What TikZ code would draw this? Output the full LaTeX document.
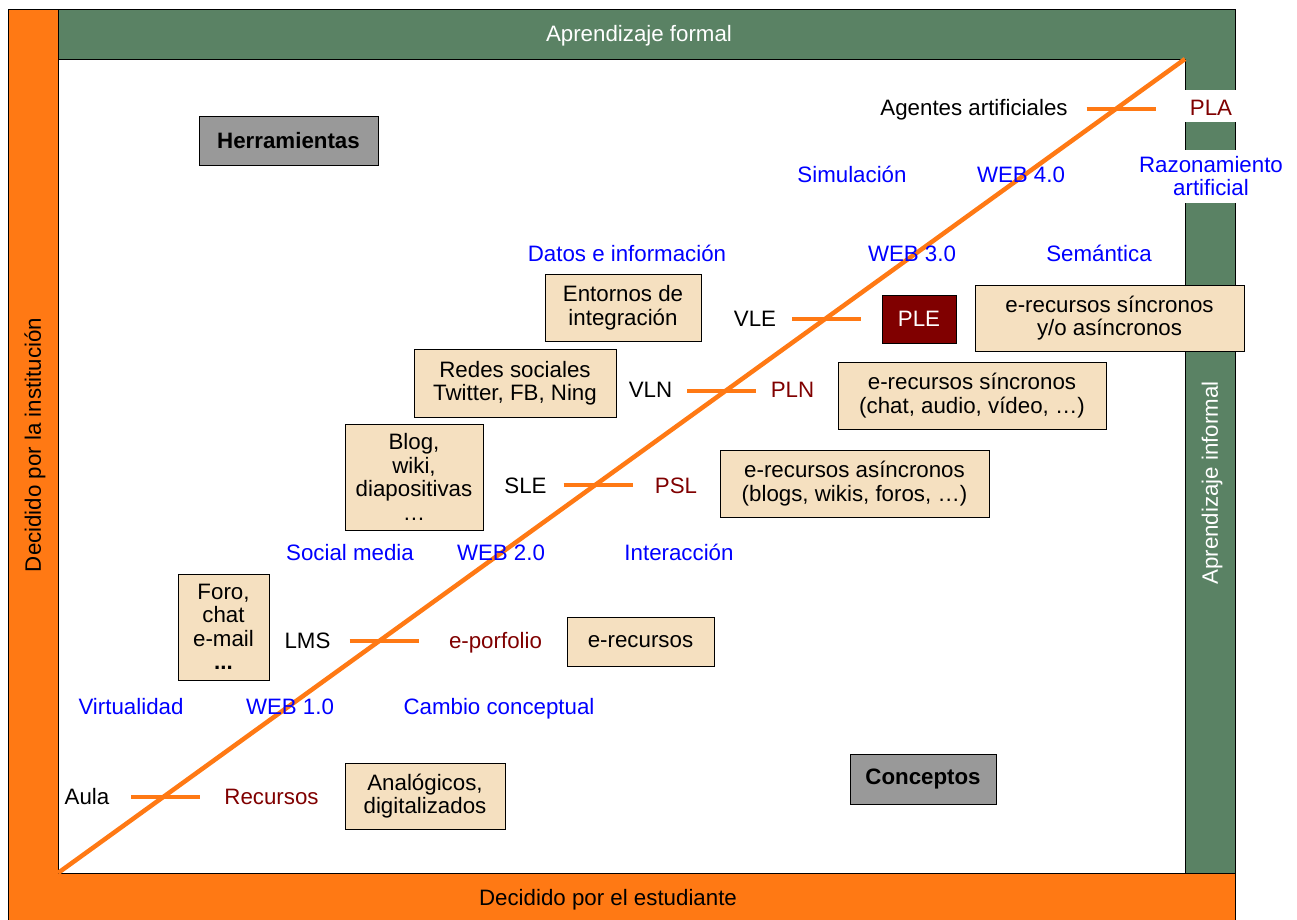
\documentclass[tikz,border=0pt]{standalone}
\usepackage{fontspec}
\setmainfont{Liberation Sans}
\usetikzlibrary{calc}
\definecolor{barorange}{RGB}{255,121,20}
\definecolor{bargreen}{RGB}{90,130,100}
\definecolor{boxtan}{RGB}{245,224,192}
\definecolor{boxgray}{RGB}{153,153,153}
\definecolor{darkred}{RGB}{128,0,0}
\definecolor{webblue}{RGB}{0,0,255}

\begin{document}
\begin{tikzpicture}[x=1pt,y=-1pt,
  font=\fontsize{22.3}{23.5}\selectfont,
  lbl/.style={inner sep=0pt, text height=15.8pt, text depth=0pt},
  env/.style={lbl, text=black},
  pers/.style={lbl, text=darkred},
  concept/.style={lbl, text=webblue},
  toolbox/.style={draw=black, line width=1pt, fill=boxtan, align=center, inner sep=0pt},
  headbox/.style={draw=black, line width=1pt, fill=boxgray, font=\fontsize{22.3}{23.5}\selectfont\bfseries, inner sep=0pt},
  trend/.style={draw=barorange, line width=4.5pt},
  tick/.style={draw=barorange, line width=4.5pt},
  frameline/.style={draw=black, line width=1pt}
]
\useasboundingbox (0,0) rectangle (1297,919);

% frame corners
\coordinate (o) at (58,873);
\coordinate (e) at (1185,59);

% orange L (left and bottom)
\fill[barorange] (8,9) -- (58,9) -- (58,873) -- (1235,873) -- (1235,922) -- (8,922) -- cycle;
\draw[frameline] (8,922) -- (8,9) -- (58,9) -- (58,873) -- (1235,873) -- (1235,922);
% green L (top and right)
\fill[bargreen] (58,9) -- (1235,9) -- (1235,873) -- (1185,873) -- (1185,59) -- (58,59) -- cycle;
\draw[frameline] (58,9) -- (1235,9) -- (1235,873) -- (1185,873) -- (1185,59) -- (58,59) -- cycle;

% bar captions
\node[lbl, text=white] (formal) at (639,34) {Aprendizaje formal};
\node[lbl, text=black] (estud) at (608,898) {Decidido por el estudiante};
\node[lbl, text=black, rotate=90] (instit) at (33,445) {Decidido por la institución};
\node[lbl, text=white, rotate=90] (informal) at (1210,483) {Aprendizaje informal};

% white patches behind labels crossing the right bar
\fill[white] (1184,90) rectangle (1237,122);
\fill[white] (1184,150) rectangle (1237,203);

% trend line
\draw[trend] (o) -- (e);

% ticks across the trend line
\coordinate (tAula) at (165.5,797);
\coordinate (tLMS) at (384,641);
\coordinate (tSLE) at (598,485);
\coordinate (tVLN) at (721.5,391);
\coordinate (tVLE) at (826.5,319);
\coordinate (tPLA) at (1121,109);
\foreach \t in {tAula,tLMS,tSLE,tVLN,tVLE,tPLA}
  \draw[tick] ([xshift=-34.5pt]\t) -- ([xshift=34.5pt]\t);

% environments and personal counterparts
\node[env] (aula) at (87,797) {Aula};
\node[pers] (recursos) at (271.5,797) {Recursos};
\node[env] (lms) at (307.5,641) {LMS};
\node[pers] (porfolio) at (495.5,641) {e-porfolio};
\node[env] (sle) at (525.5,486) {SLE};
\node[pers] (psl) at (676,486) {PSL};
\node[env] (vln) at (650.5,390) {VLN};
\node[pers] (pln) at (792.5,390) {PLN};
\node[env] (vle) at (755,319) {VLE};
\node[env] (agentes) at (974,108) {Agentes artificiales};
\node[pers] (pla) at (1211,108) {PLA};

% concepts
\node[concept] (virt) at (131,707) {Virtualidad};
\node[concept] (web1) at (290,707) {WEB 1.0};
\node[concept] (cambio) at (499,707) {Cambio conceptual};
\node[concept] (social) at (350,553) {Social media};
\node[concept] (web2) at (501,553) {WEB 2.0};
\node[concept] (inter) at (679,553) {Interacción};
\node[concept] (datos) at (627,254) {Datos e información};
\node[concept] (web3) at (912,254) {WEB 3.0};
\node[concept] (seman) at (1099,254) {Semántica};
\node[concept] (simul) at (852,175) {Simulación};
\node[concept] (web4) at (1021,175) {WEB 4.0};
\node[inner sep=0pt, text=webblue, align=center] (razon) at (1211,176) {Razonamiento\\artificial};

% heading boxes
\node[headbox, minimum width=179pt, minimum height=49pt] (herr) at (288.5,140.5) {Herramientas};
\node[headbox, minimum width=146pt, minimum height=50pt] (conc) at (923,779) {Conceptos};

% tool boxes
\node[toolbox, minimum width=160pt, minimum height=66pt] (analog) at (425,796) {Analógicos,\\digitalizados};
\node[toolbox, minimum width=91pt, minimum height=106pt] (foro) at (223.5,627) {Foro,\\chat\\e-mail\\\textbf{...}};
\node[toolbox, minimum width=147pt, minimum height=49pt] (erec) at (640.5,641.5) {e-recursos};
\node[toolbox, minimum width=138pt, minimum height=106pt] (blog) at (414,477) {Blog,\\wiki,\\diapositivas\\…};
\node[toolbox, minimum width=269pt, minimum height=67pt] (easinc) at (854.5,483.5) {e-recursos asíncronos\\(blogs, wikis, foros, …)};
\node[toolbox, minimum width=202pt, minimum height=68pt] (redes) at (515,383) {Redes sociales\\Twitter, FB, Ning};
\node[toolbox, minimum width=268pt, minimum height=67pt] (esinc) at (972,395.5) {e-recursos síncronos\\(chat, audio, vídeo, …)};
\node[toolbox, minimum width=156pt, minimum height=67pt] (entornos) at (623,307.5) {Entornos de\\integración};
\node[toolbox, minimum width=269pt, minimum height=66pt] (eambos) at (1109.5,318) {e-recursos síncronos\\y/o asíncronos};
\node[draw=black, line width=1pt, fill=darkred, text=white, inner sep=0pt, minimum width=74pt, minimum height=48pt] (ple) at (919,319) {PLE};
\end{tikzpicture}
\end{document}
